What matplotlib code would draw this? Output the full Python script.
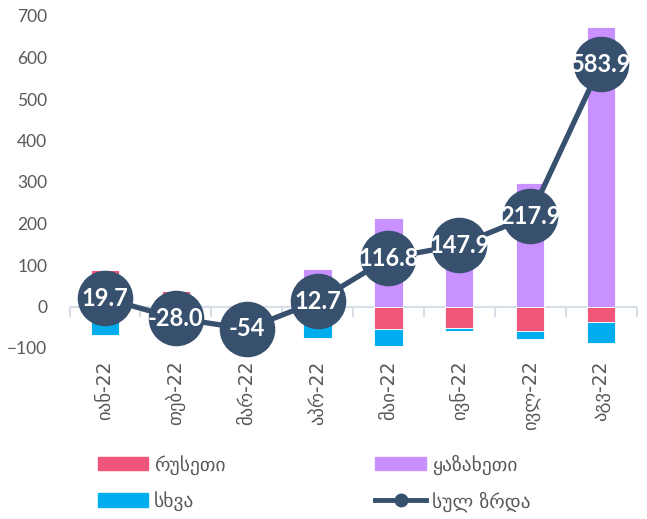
import numpy as np
from matplotlib import pyplot as plt
from matplotlib.lines import Line2D
from matplotlib.patches import Patch

plt.rcParams['font.family'] = ['Lato', 'DejaVu Sans']

months = ['იან-22', 'თებ-22', 'მარ-22', 'აპრ-22', 'მაი-22', 'ივნ-22', 'ივლ-22', 'აგვ-22']
russia = [88, 38, 3, -20, -55, -53, -60, -38]
kazakh = [0, 0, 0, 90, 213, 208, 297, 673]
other = [-68, -66, -57, -57, -41, -7, -19, -51]
total = [19.7, -28.0, -54, 12.7, 116.8, 147.9, 217.9, 583.9]
total_lbl = ['19.7', '-28.0', '-54', '12.7', '116.8', '147.9', '217.9', '583.9']

c_rus = '#F0557A'
c_kaz = '#C990FF'
c_oth = '#00AEEF'
c_line = '#36506E'
grey = '#595959'

fig = plt.figure(figsize=(6.47, 5.19), dpi=100)
ax = fig.add_axes([69.5/647, 171/519, 567/647, 332/519])

x = np.arange(len(months))
pos = np.zeros(len(x))
neg = np.zeros(len(x))
for vals, col in [(russia, c_rus), (kazakh, c_kaz), (other, c_oth)]:
    v = np.array(vals, dtype=float)
    base = np.where(v >= 0, pos, neg)
    ax.bar(x, v, 0.4, bottom=base, color=col, edgecolor='white', linewidth=0.6, zorder=2)
    pos += np.where(v >= 0, v, 0)
    neg += np.where(v < 0, v, 0)

# zero line with tick marks between categories
ax.axhline(0, color='#D6DEE8', lw=1.5, zorder=1)
bounds = np.arange(len(x) + 1) - 0.5
ax.plot(bounds, np.zeros(len(bounds)), ls='none', marker=3, ms=7, mew=1.5,
        color='#D6DEE8', zorder=1, clip_on=False)

ax.plot(x, total, color=c_line, lw=3.8, marker='o', ms=39, zorder=3, clip_on=False)
for xi, yi, t in zip(x, total, total_lbl):
    ax.text(xi, yi, t, color='white', fontsize=17, fontweight='bold',
            ha='center', va='center', zorder=4)

ax.set_xlim(-0.5, len(x) - 0.5)
ax.set_ylim(-100, 700)
ax.set_yticks(range(-100, 701, 100))
ax.set_xticks(x)
ax.set_xticklabels(months, rotation=90, family='DejaVu Sans')
ax.tick_params(axis='x', length=0, pad=9, labelsize=13.5, labelcolor=grey)
ax.tick_params(axis='y', length=0, pad=16, labelsize=12.5, labelcolor=grey)
for s in ax.spines.values():
    s.set_visible(False)

handles = [Patch(color=c_rus), Patch(color=c_oth), Patch(color=c_kaz),
           Line2D([], [], color=c_line, lw=3.5, marker='o', ms=9)]
labels = ['რუსეთი', 'სხვა', 'ყაზახეთი', 'სულ ზრდა']
fig.legend(handles, labels, ncol=2, loc='center left', bbox_to_anchor=(80/647, 1 - 483/519),
           frameon=False, handlelength=2.6, handletextpad=0.3,
           columnspacing=7.7, labelspacing=0.85, labelcolor=grey,
           prop={'family': 'DejaVu Sans', 'size': 14})

fig.savefig('out.png', dpi=100)
